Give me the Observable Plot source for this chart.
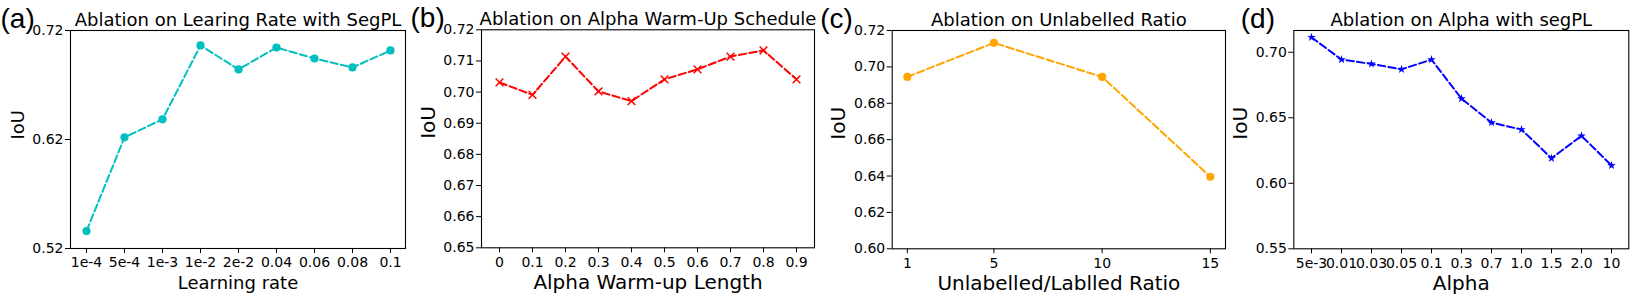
<!DOCTYPE html>
<html><head><meta charset="utf-8">
<script src="https://cdn.jsdelivr.net/npm/d3@7"></script>
<script src="https://cdn.jsdelivr.net/npm/@observablehq/plot@0.6"></script>
<style>
body{margin:0;background:#fff;}
#wrap{position:relative;width:1636px;height:300px;overflow:hidden;background:#fff;}
.panel{position:absolute;top:0;}
</style></head><body><div id="wrap"></div>
<script>
// Panel (a): learning rate
const lrLabels = ["1e-4","5e-4","1e-3","1e-2","2e-2","0.04","0.06","0.08","0.1"];
const lrIoU = [0.536, 0.622, 0.6385, 0.7063, 0.6843, 0.7044, 0.6943, 0.6861, 0.7017];
const lrYTicks = [0.52, 0.62, 0.72];
// Panel (b): alpha warm-up
const warmLabels = ["0","0.1","0.2","0.3","0.4","0.5","0.6","0.7","0.8","0.9"];
const warmIoU = [0.7031, 0.6991, 0.7114, 0.7002, 0.6971, 0.7041, 0.7073, 0.7114, 0.7134, 0.7041];
const warmYTicks = [0.65, 0.66, 0.67, 0.68, 0.69, 0.70, 0.71, 0.72];
// Panel (c): unlabelled ratio
const ratioValues = [1, 5, 10, 15];
const ratioIoU = [0.6945, 0.7132, 0.6945, 0.6396];
const ratioXTicks = [1, 5, 10, 15];
const ratioYTicks = [0.60, 0.62, 0.64, 0.66, 0.68, 0.70, 0.72];
// Panel (d): alpha
const alphaLabels = ["5e-3","0.01","0.03","0.05","0.1","0.3","0.7","1.0","1.5","2.0","10"];
const alphaIoU = [0.7114, 0.6944, 0.6911, 0.687, 0.6944, 0.6646, 0.6463, 0.641, 0.6191, 0.6362, 0.6136];
const alphaYTicks = [0.55, 0.60, 0.65, 0.70];

const wrap = document.getElementById("wrap");
const FONT = "'DejaVu Sans', sans-serif";

function panel(o) {
  const data = o.xs.map((x, i) => ({x, y: o.ys[i]}));
  const chart = Plot.plot({
    width: o.width, height: 300,
    marginLeft: o.ml, marginRight: o.mr, marginTop: o.mt, marginBottom: 300 - o.fb,
    style: {fontFamily: FONT, fontSize: "14px", overflow: "visible", background: "transparent", color: "black"},
    x: o.x,
    y: {domain: o.yDomain, label: null},
    marks: [
      Plot.frame({stroke: "black", strokeWidth: 1.1}),
      Plot.axisX({ticks: o.xTicks, tickSize: 5, tickPadding: 4, label: null, fontSize: 14, stroke: "black"}),
      Plot.axisY({ticks: o.yTicks, tickFormat: d3.format(".2f"), tickSize: 5, tickPadding: 2, label: null, fontSize: 14}),
      Plot.line(data, {x: "x", y: "y", stroke: o.color, strokeWidth: 2, strokeDasharray: "7.4,3.2"}),
      Plot.dot(data, {x: "x", y: "y", fill: o.color, stroke: o.symbol === "times" ? o.color : "none", strokeWidth: 1.5, r: o.r, symbol: o.symbol}),
      Plot.text([o.title], {text: d => d, frameAnchor: "top", lineAnchor: "bottom", dy: -5, fontSize: 18, fill: "black"}),
      Plot.text([o.xlabel], {text: d => d, frameAnchor: "bottom", lineAnchor: "middle", dy: 35, fontSize: o.xlabelSize, fill: "black"}),
      Plot.text(["IoU"], {text: d => d, frameAnchor: "left", rotate: -90, dx: o.ylabelDx, fontSize: o.ylabelSize, fill: "black"}),
      Plot.text([o.tag], {text: d => d, frameAnchor: "top-left", textAnchor: "start", lineAnchor: "bottom", dx: o.tagDx, dy: -3, fontSize: 28, fontFamily: "'Liberation Sans', Arial, sans-serif", fill: "black"})
    ]
  });
  chart.classList.add("panel");
  chart.style.left = o.left + "px";
  wrap.appendChild(chart);
}

panel({left: 0, width: 409, ml: 70, mr: 4, mt: 30, fb: 248,
  xs: lrLabels, ys: lrIoU,
  x: {type: "point", domain: lrLabels, padding: 0.4, label: null},
  yDomain: [0.52, 0.72], yTicks: lrYTicks,
  color: "#00bfbf", symbol: "circle", r: 4.1,
  title: "Ablation on Learing Rate with SegPL", xlabel: "Learning rate", xlabelSize: 18,
  ylabelDx: -52, ylabelSize: 18, tag: "(a)", tagDx: -70});

panel({left: 409, width: 409, ml: 72, mr: 4, mt: 29.3, fb: 247.3,
  xs: warmLabels, ys: warmIoU,
  x: {type: "point", domain: warmLabels, padding: 0.45, label: null},
  yDomain: [0.65, 0.72], yTicks: warmYTicks,
  color: "#ff0000", symbol: "times", r: 3.6,
  title: "Ablation on Alpha Warm-Up Schedule", xlabel: "Alpha Warm-up Length", xlabelSize: 20,
  ylabelDx: -53, ylabelSize: 20, tag: "(b)", tagDx: -71});

panel({left: 818, width: 409, ml: 73.7, mr: 2, mt: 30, fb: 248.3,
  xs: ratioValues, ys: ratioIoU,
  x: {type: "linear", domain: [0.3, 15.7], label: null}, xTicks: ratioXTicks,
  yDomain: [0.60, 0.72], yTicks: ratioYTicks,
  color: "#ffa500", symbol: "circle", r: 4.1,
  title: "Ablation on Unlabelled Ratio", xlabel: "Unlabelled/Lablled Ratio", xlabelSize: 20,
  ylabelDx: -54, ylabelSize: 20, tag: "(c)", tagDx: -72});

panel({left: 1227, width: 409, ml: 66.3, mr: 7.7, mt: 30, fb: 248.3,
  xs: alphaLabels, ys: alphaIoU,
  x: {type: "point", domain: alphaLabels, padding: 0.5, label: null},
  yDomain: [0.55, 0.7166], yTicks: alphaYTicks,
  color: "#0000ff", symbol: "star", r: 2.7,
  title: "Ablation on Alpha with segPL", xlabel: "Alpha", xlabelSize: 20,
  ylabelDx: -53, ylabelSize: 20, tag: "(d)", tagDx: -53});
</script>
</body></html>
